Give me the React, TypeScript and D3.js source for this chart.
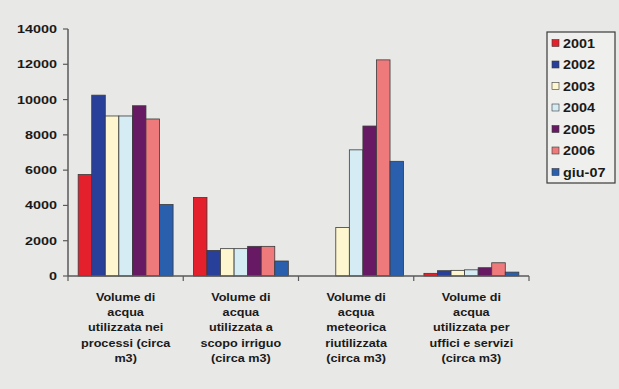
import React from "react";
import * as d3 from "d3";

// Water usage categories (each label is split into wrapped lines)
const categories: string[][] = [
  ["Volume di", "acqua", "utilizzata nei", "processi (circa", "m3)"],
  ["Volume di", "acqua", "utilizzata a", "scopo irriguo", "(circa m3)"],
  ["Volume di", "acqua", "meteorica", "riutilizzata", "(circa m3)"],
  ["Volume di", "acqua", "utilizzata per", "uffici e servizi", "(circa m3)"],
];

const seriesNames = ["2001", "2002", "2003", "2004", "2005", "2006", "giu-07"];

const v2001 = [5750, 4450, 0, 150];
const v2002 = [10250, 1450, 0, 300];
const v2003 = [9070, 1550, 2750, 320];
const v2004 = [9070, 1550, 7150, 350];
const v2005 = [9650, 1680, 8500, 470];
const v2006 = [8900, 1680, 12250, 750];
const vGiu07 = [4050, 850, 6500, 220];

const seriesValues = [v2001, v2002, v2003, v2004, v2005, v2006, vGiu07];

const seriesColors = [
  "#e3202b",
  "#28409a",
  "#fdf6cf",
  "#d6ecf5",
  "#671a63",
  "#ef7a7c",
  "#2a5fad",
];

const yTicks = [0, 2000, 4000, 6000, 8000, 10000, 12000, 14000];

const W = 619;
const H = 389;
const plot = { left: 68, right: 529, top: 29, bottom: 276 };
const FONT = "'Liberation Sans', Arial, sans-serif";

export default function App() {
  const y = d3.scaleLinear().domain([0, 14000]).range([plot.bottom, plot.top]);
  const x0 = d3
    .scaleBand<number>()
    .domain(d3.range(categories.length))
    .range([plot.left, plot.right])
    .paddingInner(0)
    .paddingOuter(0);
  const groupW = x0.bandwidth();
  const barW = groupW / (seriesNames.length + 1.5);
  const x1 = d3
    .scaleBand<number>()
    .domain(d3.range(seriesNames.length))
    .range([0, barW * seriesNames.length]);
  const groupPad = (groupW - barW * seriesNames.length) / 2;

  const axisColor = "#5a5a5a";

  return (
    <svg
      width={W}
      height={H}
      style={{ position: "absolute", left: 0, top: 0 }}
      fontFamily={FONT}
    >
      <rect x={0} y={0} width={W} height={H} fill="#e8e8e6" />

      {/* bars */}
      {categories.map((_, ci) =>
        seriesValues.map((vals, si) => {
          const v = vals[ci];
          if (v <= 0) return null;
          const bx = (x0(ci) as number) + groupPad + (x1(si) as number);
          return (
            <rect
              key={`${ci}-${si}`}
              x={bx}
              y={y(v)}
              width={x1.bandwidth()}
              height={plot.bottom - y(v)}
              fill={seriesColors[si]}
              stroke="#3a3a3a"
              strokeWidth={0.8}
            />
          );
        })
      )}

      {/* y axis */}
      <line
        x1={plot.left}
        x2={plot.left}
        y1={plot.top}
        y2={plot.bottom}
        stroke={axisColor}
        strokeWidth={1.5}
      />
      {yTicks.map((t) => (
        <g key={t}>
          <line
            x1={plot.left - 5}
            x2={plot.left}
            y1={y(t)}
            y2={y(t)}
            stroke={axisColor}
            strokeWidth={1.2}
          />
          <text
            transform={`translate(57,${y(t) + 4}) scale(1.25,1)`}
            textAnchor="end"
            fontSize={11.5}
            fontWeight="bold"
            fill="#1a1a1a"
          >
            {t}
          </text>
        </g>
      ))}

      {/* x axis */}
      <line
        x1={plot.left}
        x2={plot.right}
        y1={plot.bottom}
        y2={plot.bottom}
        stroke={axisColor}
        strokeWidth={1.5}
      />
      {d3.range(categories.length + 1).map((i) => {
        const tx = plot.left + i * groupW;
        return (
          <line
            key={i}
            x1={tx}
            x2={tx}
            y1={plot.bottom}
            y2={plot.bottom + 5}
            stroke={axisColor}
            strokeWidth={1.2}
          />
        );
      })}

      {/* category labels */}
      {categories.map((lines, ci) => {
        const cx = (x0(ci) as number) + groupW / 2;
        return (
          <g key={ci}>
            {lines.map((ln, li) => (
              <text
                key={li}
                transform={`translate(${cx},${301 + li * 15.2}) scale(1.15,1)`}
                textAnchor="middle"
                fontSize={11}
                fontWeight="bold"
                fill="#1a1a1a"
              >
                {ln}
              </text>
            ))}
          </g>
        );
      })}

      {/* legend */}
      <rect
        x={547}
        y={32}
        width={68}
        height={151}
        fill="#efefed"
        stroke="#3a3a3a"
        strokeWidth={1.2}
      />
      {seriesNames.map((name, si) => {
        const cy = 43 + si * 21.5;
        return (
          <g key={name}>
            <rect
              x={552}
              y={cy - 3.5}
              width={7}
              height={7}
              fill={seriesColors[si]}
              stroke="#3a3a3a"
              strokeWidth={0.6}
            />
            <text
              transform={`translate(563,${cy + 4.5}) scale(1.2,1)`}
              fontSize={12}
              fontWeight="bold"
              fill="#1a1a1a"
            >
              {name}
            </text>
          </g>
        );
      })}
    </svg>
  );
}
